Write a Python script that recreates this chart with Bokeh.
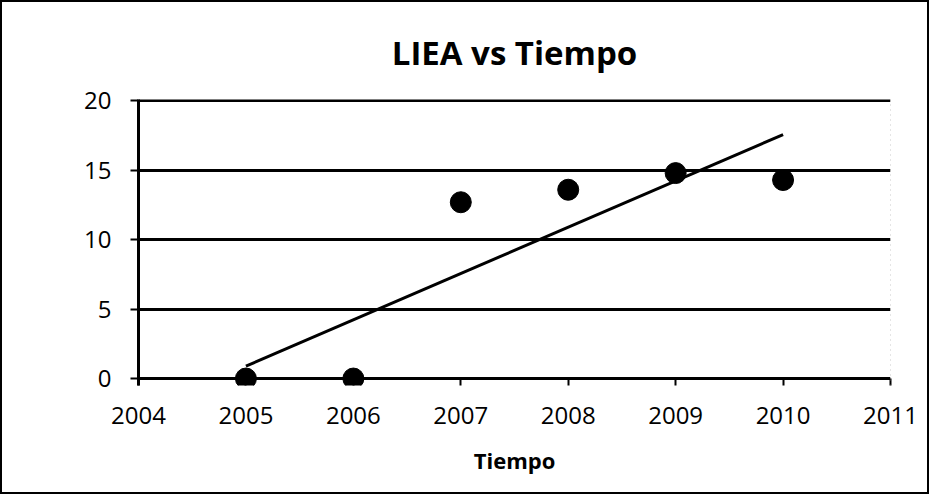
from bokeh.plotting import figure
from bokeh.models import Range1d, FixedTicker, Span
from bokeh.embed import file_html
from bokeh.resources import INLINE
import numpy as np

# Data
years = [2005, 2006, 2007, 2008, 2009, 2010]
liea = [0.0, 0.0, 12.7, 13.6, 14.8, 14.3]
x_ticks = [2004, 2005, 2006, 2007, 2008, 2009, 2010, 2011]
y_ticks = [0, 5, 10, 15, 20]
title_text = "LIEA vs Tiempo"
x_label = "Tiempo"

FONT = "Open Sans"

p = figure(width=929, height=494, output_backend="svg", toolbar_location=None,
           x_range=Range1d(2004, 2011), y_range=Range1d(-0.5, 20.1),
           min_border_left=136, min_border_right=41, min_border_top=97,
           min_border_bottom=111)

p.title.text = title_text
p.title.align = "center"
p.title.text_font = FONT
p.title.text_font_size = "33px"
p.title.text_font_style = "bold"
p.title.text_color = "black"
p.title.standoff = 49

p.outline_line_color = None
p.background_fill_color = "white"
p.border_fill_color = "white"

# x axis (the zero grid line acts as the axis line)
p.xaxis.ticker = FixedTicker(ticks=x_ticks)
p.xaxis.minor_tick_line_color = None
p.xaxis.major_tick_in = 7
p.xaxis.major_tick_out = 0
p.xaxis.major_tick_line_width = 2
p.xaxis.major_tick_line_color = "black"
p.xaxis.axis_line_color = None
p.xaxis.major_label_standoff = 21
p.xaxis.major_label_text_font = FONT
p.xaxis.major_label_text_font_size = "24px"
p.xaxis.major_label_text_color = "black"
p.xaxis.axis_label = x_label
p.xaxis.axis_label_text_font = FONT
p.xaxis.axis_label_text_font_size = "22px"
p.xaxis.axis_label_text_font_style = "bold"
p.xaxis.axis_label_text_color = "black"
p.xaxis.axis_label_standoff = 18

# y axis
p.yaxis.ticker = FixedTicker(ticks=y_ticks)
p.yaxis.minor_tick_line_color = None
p.yaxis.major_tick_in = 0
p.yaxis.major_tick_out = 8
p.yaxis.major_tick_line_width = 2
p.yaxis.major_tick_line_color = "black"
p.yaxis.axis_line_width = 3
p.yaxis.axis_line_color = "black"
p.yaxis.major_label_standoff = 19
p.yaxis.major_label_text_font = FONT
p.yaxis.major_label_text_font_size = "24px"
p.yaxis.major_label_text_color = "black"

# grid
p.xgrid.grid_line_color = None
p.ygrid.ticker = FixedTicker(ticks=y_ticks)
p.ygrid.grid_line_color = "black"
p.ygrid.grid_line_width = 3

p.add_layout(Span(location=2011, dimension="height", line_color="#999999",
                  line_dash="1 4", line_width=1))

# linear trend line
slope, intercept = np.polyfit(years, liea, 1)
tx = [years[0], years[-1]]
ty = [slope * v + intercept for v in tx]
p.line(tx, ty, line_color="black", line_width=3)

p.scatter(years, liea, size=21, color="black")

p.styles = {"border": "2px solid black"}

open("out.html", "w").write(file_html(p, INLINE))
